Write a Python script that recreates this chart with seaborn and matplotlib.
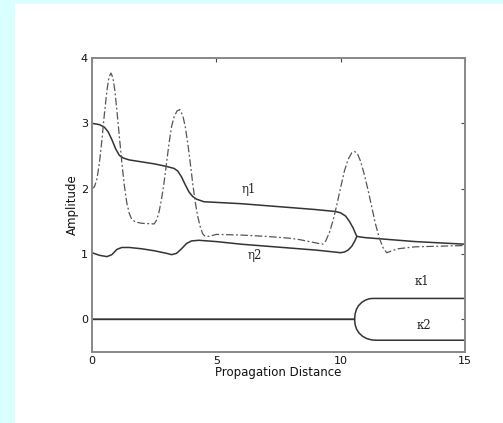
import numpy as np
import pandas as pd
import matplotlib
matplotlib.use("Agg")
import matplotlib.pyplot as plt
import seaborn as sns

# --- DATA ---
eta1_x = [0, 0.3, 0.5, 0.65, 0.8, 0.95, 1.1, 1.25, 1.5, 2.0, 2.5, 3.0, 3.3, 3.45, 3.6, 3.75, 3.9,
          4.05, 4.2, 4.5, 5, 6, 7, 8, 9, 9.8, 10.0, 10.2, 10.35, 10.5, 10.6, 10.65, 10.8, 11, 12,
          13, 14, 15]
eta1_y = [3.0, 2.98, 2.94, 2.87, 2.75, 2.61, 2.51, 2.47, 2.44, 2.41, 2.38, 2.34, 2.31, 2.27, 2.18,
          2.06, 1.95, 1.88, 1.84, 1.80, 1.79, 1.77, 1.74, 1.71, 1.68, 1.65, 1.63, 1.58, 1.50, 1.40,
          1.31, 1.27, 1.26, 1.25, 1.22, 1.19, 1.17, 1.15]

eta2_x = [0, 0.3, 0.6, 0.8, 1.0, 1.2, 1.5, 2.0, 2.5, 3.0, 3.2, 3.4, 3.6, 3.8, 4.0, 4.3, 5, 6, 7,
          8, 9, 10.0, 10.15, 10.3, 10.45, 10.57, 10.65]
eta2_y = [1.02, 0.98, 0.96, 0.99, 1.07, 1.10, 1.10, 1.08, 1.05, 1.01, 0.99, 1.01, 1.08, 1.16, 1.20,
          1.21, 1.19, 1.15, 1.12, 1.09, 1.06, 1.02, 1.03, 1.06, 1.12, 1.20, 1.27]

dd_x = [0, 0.1, 0.2, 0.3, 0.4, 0.5, 0.6, 0.68, 0.76, 0.84, 0.92, 1.0, 1.1, 1.2, 1.3, 1.4, 1.5,
        1.6, 1.75, 2.0, 2.5, 2.6, 2.7, 2.8, 2.9, 3.0, 3.1, 3.2, 3.3, 3.42, 3.53, 3.65, 3.75, 3.85,
        3.95, 4.05, 4.15, 4.25, 4.35, 4.45, 4.55, 4.7, 5.0, 6, 7, 8, 8.35, 9.0, 9.28, 9.4, 9.55,
        9.7, 9.85, 10.0, 10.15, 10.3, 10.45, 10.56, 10.68, 10.8, 10.95, 11.1, 11.25, 11.4, 11.55,
        11.7, 11.85, 12.0, 12.3, 13, 14, 15]
dd_y = [2.0, 2.03, 2.15, 2.4, 2.75, 3.15, 3.5, 3.7, 3.77, 3.7, 3.5, 3.2, 2.8, 2.4, 2.05, 1.78, 1.62,
        1.53, 1.49, 1.47, 1.46, 1.52, 1.65, 1.85, 2.1, 2.4, 2.7, 2.95, 3.1, 3.19, 3.21, 3.12, 2.95,
        2.7, 2.4, 2.08, 1.8, 1.58, 1.42, 1.31, 1.27, 1.27, 1.30, 1.29, 1.27, 1.24, 1.22, 1.17, 1.15,
        1.2, 1.33, 1.52, 1.76, 2.02, 2.27, 2.45, 2.55, 2.57, 2.53, 2.42, 2.22, 1.98, 1.72, 1.46,
        1.25, 1.1, 1.02, 1.04, 1.08, 1.11, 1.12, 1.13]

k1_x = [0, 10.56, 10.58, 10.63, 10.72, 10.85, 11.0, 11.15, 11.3, 15]
k1_y = [0, 0, 0.08, 0.15, 0.21, 0.26, 0.295, 0.315, 0.32, 0.32]
k2_x = [0, 10.56, 10.58, 10.64, 10.74, 10.88, 11.05, 11.25, 11.45, 15]
k2_y = [0, 0, -0.08, -0.15, -0.21, -0.26, -0.295, -0.315, -0.32, -0.32]

labels = ["\u03b71", "\u03b72", "\u03ba1", "\u03ba2"]
label_x = [6.0, 6.27, 12.97, 13.05]
label_y = [1.93, 0.92, 0.53, -0.15]

# --- PLOT ---
sns.set_style("white")
plt.rcParams['font.family'] = ['DejaVu Sans']

fig = plt.figure(figsize=(5.03, 4.23), dpi=100)
fig.patch.set_facecolor("#d9ffff")
fig.add_artist(plt.Rectangle((15 / 503, 0), 1, (423 - 4) / 423, transform=fig.transFigure,
                             facecolor="white", edgecolor="none", zorder=0))

ax = fig.add_axes([92 / 503, (423 - 352) / 423, 373 / 503, 294 / 423])
ax.set_facecolor("white")

solid = dict(color="#333333", linewidth=1.1, sort=False, estimator=None, ax=ax)
sns.lineplot(x=eta1_x, y=eta1_y, **solid)
sns.lineplot(x=eta2_x, y=eta2_y, **solid)
sns.lineplot(x=k1_x, y=k1_y, **solid)
sns.lineplot(x=k2_x, y=k2_y, **solid)
sns.lineplot(x=dd_x, y=dd_y, color="#555555", linewidth=0.9, sort=False, estimator=None,
             ax=ax, dashes=False, linestyle=(0, (6, 2, 1.5, 2)))

for t, x, y in zip(labels, label_x, label_y):
    ax.text(x, y, t, fontsize=8.5, family="DejaVu Serif", color="#222222")

ax.set_xlim(0, 15)
ax.set_ylim(-0.5, 4)
ax.set_xticks([0, 5, 10, 15])
ax.set_yticks([0, 1, 2, 3, 4])
ax.tick_params(direction="in", length=3, width=0.8, color="#444444", labelsize=8,
               labelcolor="#111111", top=True, right=True, pad=3)
for s in ax.spines.values():
    s.set_color("#888888")
    s.set_linewidth(1.4)
ax.set_xlabel("Propagation Distance", fontsize=8.5, labelpad=0, color="#111111")
ax.set_ylabel("Amplitude", fontsize=8.5, labelpad=1, color="#111111")

fig.savefig("out.png", dpi=100, facecolor=fig.get_facecolor())
